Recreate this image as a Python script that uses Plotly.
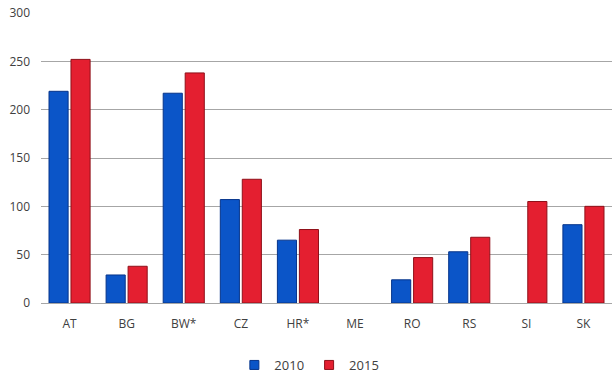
import plotly.graph_objects as go

categories = ["AT", "BG", "BW*", "CZ", "HR*", "ME", "RO", "RS", "SI", "SK"]
values_2010 = [219, 29, 217, 107, 65, None, 24, 53, None, 81]
values_2015 = [252, 38, 238, 128, 76, None, 47, 68, 105, 100]
y_ticks = [0, 50, 100, 150, 200, 250, 300]
series_names = ["2010", "2015"]
colors = ["#0b55c8", "#e41f30"]
edge_colors = ["#06348a", "#8f1019"]

fig = go.Figure()
for name, vals, c, ec in zip(series_names, [values_2010, values_2015], colors, edge_colors):
    fig.add_trace(go.Bar(x=categories, y=vals, name=name, showlegend=False,
                         marker=dict(color=c, line=dict(color=ec, width=1))))
# legend entries with small square symbols
for name, c, ec in zip(series_names, colors, edge_colors):
    fig.add_trace(go.Scatter(x=[None], y=[None], mode="markers", name=name,
                             marker=dict(symbol="square", size=9, color=c,
                                         line=dict(color=ec, width=1))))

fig.update_layout(
    width=612, height=380,
    margin=dict(l=41, r=0, t=13, b=75),
    plot_bgcolor="white", paper_bgcolor="white",
    barmode="group", bargap=0.23, bargroupgap=0.13,
    font=dict(family="Open Sans, Liberation Sans, sans-serif", size=12, color="#404040"),
    showlegend=True,
    legend=dict(orientation="h", x=0.47, xanchor="center", y=-0.215, yanchor="middle",
                font=dict(size=13), itemwidth=30, traceorder="normal"),
    xaxis=dict(showgrid=False, showline=False, ticks="", ticklabelstandoff=12,
               tickfont=dict(size=12)),
    yaxis=dict(range=[0, 300], tickvals=y_ticks, showgrid=True, gridcolor="#a6a6a6",
               gridwidth=1, zeroline=True, zerolinecolor="#a6a6a6", zerolinewidth=1,
               showline=False, ticks="", ticklabelstandoff=10, tickfont=dict(size=12)),
)

fig.write_html("out.html")
